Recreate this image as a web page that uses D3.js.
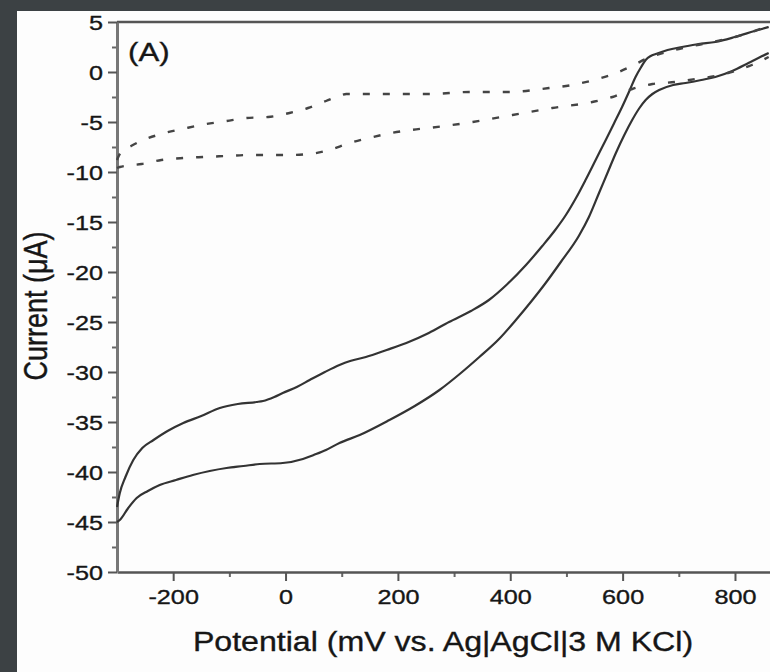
<!DOCTYPE html>
<html>
<head>
<meta charset="utf-8">
<script src="https://cdn.jsdelivr.net/npm/d3@7"></script>
<style>
  body { margin: 0; background: #3c4144; }
  svg { display: block; }
  text { font-family: "Liberation Sans", Arial, sans-serif; fill: #161616; stroke: #161616; stroke-width: 0.35px; }
</style>
</head>
<body>
<div id="chart"></div>
<script>
// cyclic voltammogram, potential in mV, current in uA
const solidUpperX = [-300, -295, -285, -271, -255, -235, -210, -182, -150, -117, -85, -52, -40, -20, -5, 20, 43, 70, 96, 115, 143, 180, 215, 255, 291, 330, 362, 395, 428, 457, 480, 499, 517, 534, 552, 570, 585, 599, 612, 623, 633, 641, 650, 659, 680, 706, 735, 765, 800, 835, 860]
const solidUpperY = [-43.5, -42.1, -40.5, -38.8, -37.6, -36.8, -35.9, -35.1, -34.4, -33.6, -33.2, -33.0, -32.9, -32.5, -32.1, -31.5, -30.8, -30.0, -29.3, -28.9, -28.5, -27.8, -27.1, -26.1, -25.0, -23.9, -22.8, -21.2, -19.3, -17.4, -15.8, -14.3, -12.6, -10.8, -8.8, -6.8, -5.1, -3.5, -1.9, -0.5, 0.5, 1.2, 1.6, 1.8, 2.2, 2.5, 2.8, 3.0, 3.5, 4.1, 4.5]

const solidLowerX = [-300, -295, -280, -265, -245, -224, -195, -165, -135, -105, -75, -46, -5, 31, 50, 72, 96, 132, 185, 230, 274, 310, 345, 380, 410, 438, 463, 490, 522, 540, 558, 573, 588, 603, 617, 630, 641, 653, 665, 690, 712, 740, 765, 795, 824, 845, 860]
const solidLowerY = [-45.0, -44.8, -43.6, -42.6, -41.9, -41.3, -40.8, -40.3, -39.9, -39.6, -39.4, -39.2, -39.1, -38.7, -38.3, -37.8, -37.1, -36.3, -34.8, -33.4, -31.8, -30.2, -28.5, -26.7, -24.8, -22.9, -21.1, -19.0, -16.4, -14.5, -12.1, -10.1, -8.1, -6.3, -4.8, -3.6, -2.8, -2.2, -1.8, -1.3, -1.1, -0.8, -0.5, 0.1, 0.9, 1.5, 1.9]

const dashUpperX = [-300, -294, -275, -253, -215, -176, -141, -105, -70, -31, 7, 40, 72, 100, 108, 143, 200, 256, 327, 398, 469, 510, 549, 584, 620, 645, 660, 700, 760, 800, 835, 860]
const dashUpperY = [-8.8, -8.1, -7.4, -6.8, -6.1, -5.6, -5.2, -4.9, -4.6, -4.5, -4.1, -3.6, -2.9, -2.3, -2.2, -2.2, -2.2, -2.2, -2.0, -2.0, -1.6, -1.3, -0.8, -0.2, 0.7, 1.4, 1.7, 2.3, 3.0, 3.5, 4.1, 4.6]

const dashLowerX = [-300, -295, -256, -221, -182, -147, -105, -64, 7, 43, 78, 114, 149, 188, 223, 262, 333, 404, 475, 546, 582, 617, 653, 694, 730, 765, 800, 830, 860]
const dashLowerY = [-9.6, -9.5, -9.2, -8.8, -8.6, -8.5, -8.4, -8.3, -8.3, -8.2, -7.8, -7.1, -6.6, -6.1, -5.8, -5.55, -5.0, -4.3, -3.6, -3.0, -2.5, -1.7, -1.2, -1.0, -0.7, -0.4, 0.1, 0.7, 1.5]

const xMajorTicks = [-200, 0, 200, 400, 600, 800]
const xMinorTicks = [-100, 100, 300, 500, 700]
const yMajorTicks = [5, 0, -5, -10, -15, -20, -25, -30, -35, -40, -45, -50]
const yMinorTicks = [2.5, -2.5, -7.5, -12.5, -17.5, -22.5, -27.5, -32.5, -37.5, -42.5, -47.5]

const width = 770
const height = 672
const plot = { left: 117, top: 22, bottom: 572 }
const stretch = 1.2 // the picture is a little wider than tall, text too

const svg = d3.select('#chart').append('svg')
    .attr('width', width)
    .attr('height', height)

// white page inside the dark frame
svg.append('rect')
    .attr('x', 17).attr('y', 11)
    .attr('width', width - 17).attr('height', height - 11)
    .attr('fill', '#fdfdfd')

const x = d3.scaleLinear().domain([-300, 900]).range([plot.left, plot.left + 1200 * 0.5618])
const y = d3.scaleLinear().domain([-50, 5]).range([plot.bottom, plot.top])

// top frame line
svg.append('line')
    .attr('x1', plot.left).attr('x2', width)
    .attr('y1', plot.top).attr('y2', plot.top)
    .attr('stroke', '#555').attr('stroke-width', 2.5)

// minor ticks
svg.append('g')
    .attr('transform', `translate(0,${plot.bottom})`)
    .call(d3.axisBottom(x).tickValues(xMinorTicks).tickSize(5).tickFormat(''))
    .call(g => g.select('.domain').remove())
    .selectAll('line').attr('stroke', '#666').attr('stroke-width', 2)

svg.append('g')
    .attr('transform', `translate(${plot.left},0)`)
    .call(d3.axisLeft(y).tickValues(yMinorTicks).tickSize(5).tickFormat(''))
    .call(g => g.select('.domain').remove())
    .selectAll('line').attr('stroke', '#666').attr('stroke-width', 2)

// major axes
const xAxis = svg.append('g')
    .attr('transform', `translate(0,${plot.bottom})`)
    .call(d3.axisBottom(x).tickValues(xMajorTicks).tickSize(9).tickSizeOuter(0).tickFormat(d => String(d)))
xAxis.select('.domain').attr('stroke', '#555').attr('stroke-width', 2.5)
xAxis.selectAll('.tick line').attr('stroke', '#555').attr('stroke-width', 2)
xAxis.selectAll('.tick text')
    .attr('y', 32).attr('dy', 0)
    .attr('transform', `scale(${stretch},1)`)
    .style('font-size', '21px')
    .attr('fill', '#161616')

const yAxis = svg.append('g')
    .attr('transform', `translate(${plot.left},0)`)
    .call(d3.axisLeft(y).tickValues(yMajorTicks).tickSize(9).tickSizeOuter(0).tickFormat(d => String(d)))
yAxis.select('.domain').attr('stroke', '#777').attr('stroke-width', 3)
yAxis.selectAll('.tick line').attr('stroke', '#555').attr('stroke-width', 2)
yAxis.selectAll('.tick text')
    .attr('x', -14 / stretch).attr('dy', '0.36em')
    .attr('transform', `scale(${stretch},1)`)
    .style('font-size', '21px')
    .attr('fill', '#161616')

// curves
const line = d3.line()
    .x(d => x(d[0]))
    .y(d => y(d[1]))
    .curve(d3.curveMonotoneX)

const series = [
    { xs: solidUpperX, ys: solidUpperY, dash: null },
    { xs: solidLowerX, ys: solidLowerY, dash: null },
    { xs: dashUpperX, ys: dashUpperY, dash: '7,13' },
    { xs: dashLowerX, ys: dashLowerY, dash: '7,13' }
]

svg.append('g')
    .attr('class', 'curves')
    .selectAll('path')
    .data(series)
    .enter()
    .append('path')
    .attr('d', s => line(s.xs.map((v, i) => [v, s.ys[i]])))
    .attr('fill', 'none')
    .attr('stroke', s => s.dash ? '#444' : '#333')
    .attr('stroke-width', s => s.dash ? 2.4 : 2.2)
    .attr('stroke-dasharray', s => s.dash)

// panel label
svg.append('text')
    .attr('transform', `translate(128,61) scale(${stretch},1)`)
    .style('font-size', '26px')
    .text('(A)')

// axis titles
svg.append('text')
    .attr('transform', `translate(443,651) scale(1.19,1)`)
    .attr('text-anchor', 'middle')
    .style('font-size', '27px')
    .text('Potential (mV vs. Ag|AgCl|3 M KCl)')

svg.append('text')
    .attr('transform', `translate(47,306) scale(${stretch},1) rotate(-90)`)
    .attr('text-anchor', 'middle')
    .style('font-size', '27px')
    .text('Current (\u03bcA)')
</script>
</body>
</html>
